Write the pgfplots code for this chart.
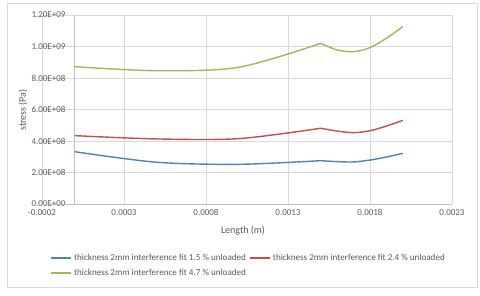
\documentclass[border=0pt]{standalone}
\usepackage{fontspec}
\setmainfont{Carlito}
\usepackage{pgfplots}
\pgfplotsset{compat=1.18}
\definecolor{sblue}{HTML}{4F81BD}
\definecolor{sred}{HTML}{C0504D}
\definecolor{sgreen}{HTML}{9BBB59}
\definecolor{gridc}{HTML}{D9D9D9}
\definecolor{axc}{HTML}{BFBFBF}
\definecolor{txt}{HTML}{595959}
\begin{document}
\begin{tikzpicture}[x=1pt,y=1pt]
\path[use as bounding box] (0,0) rectangle (480,296);
\draw[gridc, line width=0.6pt] (7,9) rectangle (477,293);
\begin{axis}[
  at={(42pt,92pt)}, anchor=south west,
  scale only axis, width=410pt, height=189pt,
  xmin=-0.0002, xmax=0.0023, ymin=0, ymax=1.2e9,
  axis line style={draw=none},
  tick style={draw=none},
  grid=major, major grid style={gridc, line width=0.6pt},
  xtick={-0.0002,0.0003,0.0008,0.0013,0.0018,0.0023},
  xticklabels={-0.0002,0.0003,0.0008,0.0013,0.0018,0.0023},
  ytick={0,2e8,4e8,6e8,8e8,1e9,1.2e9},
  yticklabels={0.00E+00,2.00E+08,4.00E+08,6.00E+08,8.00E+08,1.00E+09,1.20E+09},
  scaled ticks=false,
  tick label style={font=\fontsize{9}{10}\selectfont, text=txt},
  yticklabel style={anchor=east, xshift=27pt},
  xticklabel style={yshift=-2pt},
  legend style={draw=none, fill=none, at={(0.012,-0.245)}, anchor=north west,
    font=\fontsize{9.1}{11}\selectfont, legend columns=2,
    nodes={text=txt},
    /tikz/every even column/.append style={column sep=1pt}, row sep=3pt},
  legend image code/.code={\draw[#1] (0pt,0pt) -- (20pt,0pt);},
  legend image post style={line width=2pt},
  clip=false,
]
\draw[axc, line width=0.6pt] (axis cs:-0.0002,0) -- (axis cs:0.0023,0);
\draw[axc, line width=0.6pt] (axis cs:0,0) -- (axis cs:0,1.2e9);
% blue
\addplot[color=sblue, line width=1.4pt, smooth, tension=0.5] coordinates {
 (0,3.32e8) (0.0005,2.65e8) (0.001,2.52e8) (0.0015,2.75e8)};
\addlegendentry{thickness 2mm interference fit 1.5 \% unloaded}
% red
\addplot[color=sred, line width=1.4pt, smooth, tension=0.5] coordinates {
 (0,4.34e8) (0.0005,4.13e8) (0.001,4.15e8) (0.0015,4.81e8)};
\addlegendentry{thickness 2mm interference fit 2.4 \% unloaded}
% green
\addplot[color=sgreen, line width=1.4pt, smooth, tension=0.5] coordinates {
 (0,8.72e8) (0.0005,8.46e8) (0.001,8.68e8) (0.0015,1.02e9)};
\addlegendentry{thickness 2mm interference fit 4.7 \% unloaded}
% second parts
\addplot[color=sblue, line width=1.4pt, smooth, tension=0.5, forget plot] coordinates {
 (0.0015,2.75e8) (0.0016,2.69e8) (0.0017,2.67e8) (0.0018,2.79e8) (0.0019,2.98e8) (0.002,3.22e8)};
\addplot[color=sred, line width=1.4pt, smooth, tension=0.5, forget plot] coordinates {
 (0.0015,4.81e8) (0.0016,4.63e8) (0.0017,4.53e8) (0.0018,4.65e8) (0.0019,4.95e8) (0.002,5.31e8)};
\addplot[color=sgreen, line width=1.4pt, smooth, tension=0.5, forget plot] coordinates {
 (0.0015,1.02e9) (0.0016,0.978e9) (0.0017,0.967e9) (0.0018,0.993e9) (0.0019,1.052e9) (0.002,1.126e9)};
\end{axis}
\node[text=txt, font=\fontsize{10}{12}\selectfont] at (243,65) {Length (m)};
\node[text=txt, font=\fontsize{10}{12}\selectfont, rotate=90] at (23,186) {stress (Pa)};
\end{tikzpicture}
\end{document}
